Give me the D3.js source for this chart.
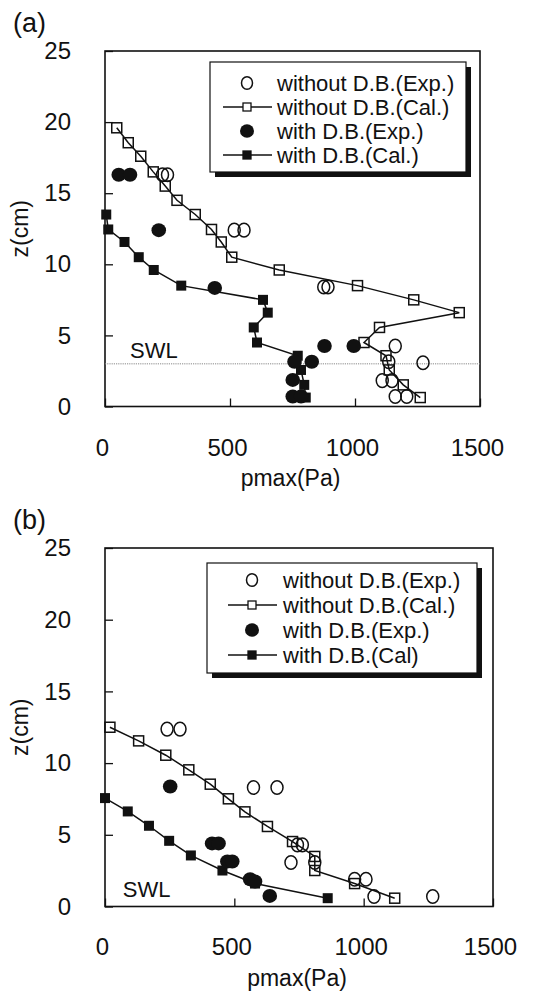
<!DOCTYPE html>
<html>
<head>
<meta charset="utf-8">
<script src="https://cdn.jsdelivr.net/npm/d3@7"></script>
<style>
  html, body { margin: 0; padding: 0; background: #fff; }
  svg { display: block; }
  text { font-family: "Liberation Sans", Arial, Helvetica, sans-serif; fill: #111; }
</style>
</head>
<body>
<div id="chart"></div>
<script>
// ---------- DATA ----------
const xTicks = [0, 500, 1000, 1500];
const yTicks = [0, 5, 10, 15, 20, 25];
const legendA = ["without D.B.(Exp.)", "without D.B.(Cal.)", "with D.B.(Exp.)", "with D.B.(Cal.)"];
const legendB = ["without D.B.(Exp.)", "without D.B.(Cal.)", "with D.B.(Exp.)", "with D.B.(Cal)"];

// Panel (a)
const aWoCalP = [47, 93, 143, 193, 241, 288, 361, 426, 465, 507, 697, 1010, 1235, 1417, 1098, 1036, 1124, 1137, 1193, 1261];
const aWoCalZ = [19.6, 18.55, 17.6, 16.5, 15.5, 14.5, 13.5, 12.45, 11.57, 10.5, 9.6, 8.5, 7.5, 6.6, 5.56, 4.5, 3.57, 2.57, 1.52, 0.63];
const aWiCalP = [5, 13, 78, 135, 195, 305, 632, 651, 595, 608, 771, 784, 797, 803];
const aWiCalZ = [13.5, 12.45, 11.57, 10.5, 9.6, 8.5, 7.5, 6.6, 5.56, 4.5, 3.57, 2.57, 1.52, 0.63];
const aWoExpP = [230, 250, 517, 556, 875, 892, 1161, 1135, 1272, 1109, 1148, 1161, 1207];
const aWoExpZ = [16.3, 16.3, 12.4, 12.4, 8.4, 8.4, 4.25, 3.15, 3.08, 1.82, 1.82, 0.7, 0.7];
const aWiExpP = [55, 100, 215, 439, 878, 995, 758, 827, 751, 751, 784];
const aWiExpZ = [16.3, 16.3, 12.4, 8.34, 4.25, 4.25, 3.15, 3.15, 1.87, 0.7, 0.7];
const swlZ = 3;

// Panel (b)
const bWoCalP = [19, 130, 235, 324, 407, 477, 541, 628, 725, 811, 811, 965, 1120];
const bWoCalZ = [12.5, 11.55, 10.55, 9.53, 8.53, 7.51, 6.6, 5.58, 4.53, 3.49, 2.51, 1.6, 0.58];
const bWiCalP = [0, 88, 170, 248, 332, 454, 580, 861];
const bWiCalZ = [7.56, 6.63, 5.63, 4.58, 3.56, 2.51, 1.6, 0.58];
const bWoExpP = [240, 290, 574, 665, 744, 763, 719, 811, 965, 1009, 1040, 1267];
const bWoExpZ = [12.37, 12.37, 8.3, 8.3, 4.3, 4.3, 3.07, 3.07, 1.9, 1.9, 0.7, 0.7];
const bWiExpP = [252, 414, 439, 473, 492, 561, 580, 637];
const bWiExpZ = [8.37, 4.4, 4.4, 3.14, 3.14, 1.9, 1.74, 0.74];

// ---------- DRAW ----------
const W = 534, H = 996;
const svg = d3.select("#chart").append("svg").attr("width", W).attr("height", H);

const zip = (p, z) => p.map((v, i) => ({ p: v, z: z[i] }));

function panel(cfg) {
  const x = d3.scaleLinear().domain([0, 1500]).range([cfg.left, cfg.right]);
  const y = d3.scaleLinear().domain([0, 25]).range([cfg.bottom, cfg.top]);
  const g = svg.append("g");

  // axes with inward ticks
  const xa = g.append("g").attr("transform", `translate(0,${cfg.bottom})`)
    .call(d3.axisBottom(x).tickValues(xTicks).tickSize(-8).tickPadding(cfg.xPad).tickFormat(d3.format("d")));
  xa.select(".domain").remove();
  xa.selectAll("line").attr("stroke", "#111").attr("stroke-width", 1.3);
  xa.selectAll("text").attr("font-size", 24).attr("dx", -3).attr("fill", "#111")
    .style("font-family", '"Liberation Sans", Arial, sans-serif');

  const ya = g.append("g").attr("transform", `translate(${cfg.left},0)`)
    .call(d3.axisLeft(y).tickValues(yTicks).tickSize(-8).tickPadding(34).tickFormat(d3.format("d")));
  ya.select(".domain").remove();
  ya.selectAll("line").attr("stroke", "#111").attr("stroke-width", 1.3);
  ya.selectAll("text").attr("font-size", 24).attr("fill", "#111")
    .style("font-family", '"Liberation Sans", Arial, sans-serif');

  // frame
  g.append("rect").attr("x", cfg.left).attr("y", cfg.top)
    .attr("width", cfg.right - cfg.left).attr("height", cfg.bottom - cfg.top)
    .attr("fill", "none").attr("stroke", "#111").attr("stroke-width", 1.6);

  // SWL
  if (cfg.swl) {
    g.append("line").attr("x1", cfg.left).attr("x2", cfg.right)
      .attr("y1", y(swlZ)).attr("y2", y(swlZ))
      .attr("stroke", "#888").attr("stroke-width", 1).attr("stroke-dasharray", "1.2,1");
  }
  g.append("text").attr("x", x(cfg.swlTextP)).attr("y", y(cfg.swlTextZ)).attr("dy", "0.36em")
    .attr("font-size", 22).text("SWL");

  // labels
  g.append("text").attr("x", (cfg.left + cfg.right) / 2 - 2).attr("y", cfg.xTitleY)
    .attr("text-anchor", "middle").attr("font-size", 23).text("pmax(Pa)");
  g.append("text").attr("transform", `translate(${28},${(cfg.top + cfg.bottom) / 2}) rotate(-90)`)
    .attr("text-anchor", "middle").attr("font-size", 23).text("z(cm)");
  g.append("text").attr("x", 13).attr("y", cfg.top - 19).attr("font-size", 27).text(cfg.tag);

  const line = d3.line().x(d => x(d.p)).y(d => y(d.z));
  const woCal = zip(cfg.woCalP, cfg.woCalZ);
  const wiCal = zip(cfg.wiCalP, cfg.wiCalZ);

  g.append("path").datum(woCal).attr("d", line).attr("fill", "none").attr("stroke", "#111").attr("stroke-width", 1.5);
  g.append("path").datum(wiCal).attr("d", line).attr("fill", "none").attr("stroke", "#111").attr("stroke-width", 1.5);

  const S = 10;
  g.selectAll(null).data(woCal).enter().append("rect")
    .attr("x", d => x(d.p) - S / 2).attr("y", d => y(d.z) - S / 2).attr("width", S).attr("height", S)
    .attr("fill", "none").attr("stroke", "#111").attr("stroke-width", 1.5);
  g.selectAll(null).data(wiCal).enter().append("rect")
    .attr("x", d => x(d.p) - S / 2).attr("y", d => y(d.z) - S / 2).attr("width", S).attr("height", S)
    .attr("fill", "#111");

  g.selectAll(null).data(zip(cfg.woExpP, cfg.woExpZ)).enter().append("ellipse")
    .attr("cx", d => x(d.p)).attr("cy", d => y(d.z)).attr("rx", 6).attr("ry", 6.8)
    .attr("fill", "none").attr("stroke", "#111").attr("stroke-width", 1.5);
  g.selectAll(null).data(zip(cfg.wiExpP, cfg.wiExpZ)).enter().append("ellipse")
    .attr("cx", d => x(d.p)).attr("cy", d => y(d.z)).attr("rx", 7.3).attr("ry", 7)
    .attr("fill", "#111");

  // legend
  const L = cfg.legend;
  g.append("rect").attr("x", L.x + 5).attr("y", L.y + 5).attr("width", L.w).attr("height", L.h).attr("fill", "#111");
  g.append("rect").attr("x", L.x).attr("y", L.y).attr("width", L.w).attr("height", L.h)
    .attr("fill", "#fff").attr("stroke", "#111").attr("stroke-width", 1.2);
  cfg.legendLabels.forEach((lab, i) => {
    const cy = L.y + L.row0 + i * L.dy;
    const sx = L.x + L.sym;
    if (i === 1 || i === 3) {
      g.append("line").attr("x1", sx - 24).attr("x2", sx + 25).attr("y1", cy).attr("y2", cy)
        .attr("stroke", "#111").attr("stroke-width", 1.5);
      g.append("rect").attr("x", sx - 4).attr("y", cy - 4).attr("width", 8).attr("height", 8)
        .attr("fill", i === 1 ? "#fff" : "#111").attr("stroke", "#111").attr("stroke-width", 1.3);
    } else if (i === 0) {
      g.append("ellipse").attr("cx", sx).attr("cy", cy).attr("rx", 5.5).attr("ry", 6.3)
        .attr("fill", "none").attr("stroke", "#111").attr("stroke-width", 1.5);
    } else {
      g.append("ellipse").attr("cx", sx).attr("cy", cy).attr("rx", 7).attr("ry", 6.8).attr("fill", "#111");
    }
    g.append("text").attr("x", L.x + L.tx).attr("y", cy).attr("dy", "0.36em")
      .attr("font-size", 22).text(lab);
  });
}

panel({
  tag: "(a)", left: 105, right: 480, top: 51, bottom: 406.5, xPad: 32, xTitleY: 486,
  swl: true, swlTextP: 100, swlTextZ: 4,
  woCalP: aWoCalP, woCalZ: aWoCalZ, wiCalP: aWiCalP, wiCalZ: aWiCalZ,
  woExpP: aWoExpP, woExpZ: aWoExpZ, wiExpP: aWiExpP, wiExpZ: aWiExpZ,
  legendLabels: legendA,
  legend: { x: 210, y: 62, w: 256, h: 110, row0: 21, dy: 24, sym: 37, tx: 67 }
});

panel({
  tag: "(b)", left: 105, right: 493, top: 548, bottom: 906.5, xPad: 31, xTitleY: 986,
  swl: false, swlTextP: 69, swlTextZ: 1.2,
  woCalP: bWoCalP, woCalZ: bWoCalZ, wiCalP: bWiCalP, wiCalZ: bWiCalZ,
  woExpP: bWoExpP, woExpZ: bWoExpZ, wiExpP: bWiExpP, wiExpZ: bWiExpZ,
  legendLabels: legendB,
  legend: { x: 207, y: 563, w: 270, h: 110, row0: 17, dy: 25, sym: 45, tx: 76 }
});
</script>
</body>
</html>
